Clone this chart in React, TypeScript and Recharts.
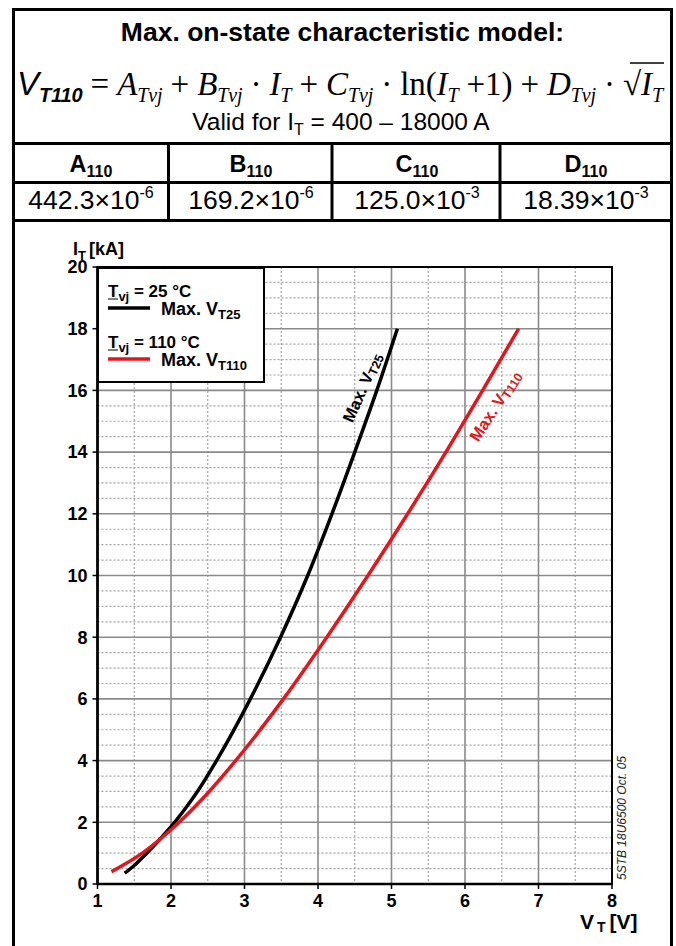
import React from 'react';
import {
  LineChart,
  Line,
  XAxis,
  YAxis,
  CartesianGrid,
  ReferenceArea,
  ReferenceDot,
  Legend,
} from 'recharts';

const SANS = '"Liberation Sans", Arial, sans-serif';
const SERIF = '"Liberation Serif", "Times New Roman", serif';
const RED = '#e4161b';

// axis ticks (V_T in volts, I_T in kA)
const voltTicks = [1, 2, 3, 4, 5, 6, 7, 8];
const voltMinor = [1.5, 2.5, 3.5, 4.5, 5.5, 6.5, 7.5];
const currentTicks = [0, 2, 4, 6, 8, 10, 12, 14, 16, 18, 20];
const currentMinor = Array.from({ length: 41 }, (_, k) => k * 0.5).filter((v) => v % 2 !== 0);

// Max. V_T at Tvj = 25 °C
const current25 = [0.35, 0.6, 1, 1.4, 1.8, 2.4, 3, 4, 6, 8, 10, 12, 14, 16, 18];
const voltage25 = [1.37, 1.5, 1.67, 1.83, 1.98, 2.18, 2.36, 2.62, 3.08, 3.49, 3.86, 4.19, 4.5, 4.8, 5.08];

// Max. V_T at Tvj = 110 °C
const current110 = [0.4, 1, 2, 3, 4, 6, 8, 10, 12, 14, 16, 18];
const voltage110 = [1.19, 1.61, 2.11, 2.52, 2.88, 3.53, 4.12, 4.68, 5.22, 5.74, 6.24, 6.73];

// model coefficients table
const coeffNames = ['A', 'B', 'C', 'D'];
const coeffMantissa = ['442.3', '169.2', '125.0', '18.39'];
const coeffExponent = ['-6', '-6', '-3', '-3'];

const data25 = current25.map((i, k) => ({ v: voltage25[k], i }));
const data110 = current110.map((i, k) => ({ v: voltage110[k], i }));

type Seg = { t: string; it?: boolean; sub?: boolean; sans?: boolean; bold?: boolean };

// V_T110 = A_Tvj + B_Tvj · I_T + C_Tvj · ln(I_T +1) + D_Tvj · √I_T
const formula: Seg[] = [
  { t: 'V', it: true, sans: true },
  { t: 'T110', it: true, sans: true, bold: true, sub: true },
  { t: ' = ' },
  { t: 'A', it: true },
  { t: 'Tvj', it: true, sub: true },
  { t: ' + ' },
  { t: 'B', it: true },
  { t: 'Tvj', it: true, sub: true },
  { t: ' · ' },
  { t: 'I', it: true },
  { t: 'T', it: true, sub: true },
  { t: ' + ' },
  { t: 'C', it: true },
  { t: 'Tvj', it: true, sub: true },
  { t: ' · ln(' },
  { t: 'I', it: true },
  { t: 'T', it: true, sub: true },
  { t: ' +1) + ' },
  { t: 'D', it: true },
  { t: 'Tvj', it: true, sub: true },
  { t: ' · √' },
  { t: 'I', it: true },
  { t: 'T', it: true, sub: true },
];

function Formula() {
  const shift = 7;
  return (
    <text x={17} y={95} fontFamily={SERIF} fontSize={33} textLength={646} lengthAdjust="spacing">
      {formula.map((s, k) => {
        const prevSub = k > 0 && formula[k - 1].sub;
        const dy = s.sub && !prevSub ? shift : !s.sub && prevSub ? -shift : 0;
        return (
          <tspan
            key={k}
            dy={dy || undefined}
            fontSize={s.sub ? 20 : undefined}
            fontStyle={s.it ? 'italic' : undefined}
            fontFamily={s.sans ? SANS : undefined}
            fontWeight={s.bold ? 'bold' : undefined}
          >
            {s.t}
          </tspan>
        );
      })}
    </text>
  );
}

function Header() {
  const colX = [91, 251, 417, 586];
  const colLines = [168.5, 332, 500];
  return (
    <svg width={676} height={224} style={{ position: 'absolute', left: 0, top: 0 }}>
      <text x={342.5} y={41} textAnchor="middle" fontFamily={SANS} fontWeight="bold" fontSize={26.5}>
        Max. on-state characteristic model:
      </text>
      <Formula />
      <line x1={630} x2={664} y1={63} y2={63} stroke="#000" strokeWidth={1.5} />
      <text x={341} y={130} textAnchor="middle" fontFamily={SANS} fontSize={24.5}>
        Valid for I
        <tspan fontSize={16} dy={5}>
          T
        </tspan>
        <tspan dy={-5}>{' = 400 – 18000 A'}</tspan>
      </text>
      {[143.5, 182.5, 220.5].map((y) => (
        <line key={y} x1={12} x2={673} y1={y} y2={y} stroke="#000" strokeWidth={3} />
      ))}
      {colLines.map((x) => (
        <line key={x} x1={x} x2={x} y1={143} y2={221} stroke="#000" strokeWidth={3} />
      ))}
      {coeffNames.map((n, k) => (
        <text key={n} x={colX[k]} y={172} textAnchor="middle" fontFamily={SANS} fontWeight="bold" fontSize={23.5}>
          {n}
          <tspan fontSize={16} dy={5}>
            110
          </tspan>
        </text>
      ))}
      {coeffMantissa.map((m, k) => (
        <text key={m} x={colX[k]} y={209} textAnchor="middle" fontFamily={SANS} fontSize={26.5}>
          {m}×10
          <tspan fontSize={16} dy={-11}>
            {coeffExponent[k]}
          </tspan>
        </text>
      ))}
    </svg>
  );
}

function LegendBox() {
  const rows = [
    { temp: '25', sub: 'T25', color: '#000', top: 0 },
    { temp: '110', sub: 'T110', color: RED, top: 51 },
  ];
  return (
    <svg width={168} height={116} style={{ display: 'block' }}>
      <rect x={1} y={1} width={166} height={114} fill="#fff" stroke="#000" strokeWidth={2} />
      {rows.map((r) => (
        <g key={r.temp} fontFamily={SANS} fontWeight="bold" fill="#000">
          <text x={11} y={30 + r.top} fontSize={17}>
            T
            <tspan fontSize={13} dy={4}>
              vj
            </tspan>
            <tspan dy={-4}>{` = ${r.temp} °C`}</tspan>
          </text>
          <line x1={11} x2={21} y1={32 + r.top} y2={32 + r.top} stroke="#000" strokeWidth={1} />
          <line x1={11} x2={53} y1={41 + r.top} y2={41 + r.top} stroke={r.color} strokeWidth={3.5} />
          <text x={64} y={48 + r.top} fontSize={18}>
            Max. V
            <tspan fontSize={13} dy={4}>
              {r.sub}
            </tspan>
          </text>
        </g>
      ))}
    </svg>
  );
}

const curveLabel = (sub: string, color: string, angle: number) => (props: any) => {
  const { cx, cy } = props;
  return (
    <text
      x={cx}
      y={cy}
      transform={`rotate(${angle} ${cx} ${cy})`}
      textAnchor="middle"
      dominantBaseline="central"
      fontFamily={SANS}
      fontWeight="bold"
      fontSize={16.5}
      fill={color}
    >
      Max. V
      <tspan fontSize={12.5} dy={4}>
        {sub}
      </tspan>
    </text>
  );
};

const docLabel = (props: any) => {
  const { cx, cy } = props;
  return (
    <text
      x={cx}
      y={cy}
      transform={`rotate(-90 ${cx} ${cy})`}
      textAnchor="middle"
      dominantBaseline="central"
      fontFamily={SANS}
      fontStyle="italic"
      fontSize={12}
      fill="#222"
    >
      5STB 18U6500 Oct. 05
    </text>
  );
};

const tickStyle = { fill: '#000', fontSize: 18, fontWeight: 'bold', fontFamily: SANS };

export default function App() {
  return (
    <div
      style={{
        position: 'absolute',
        left: 0,
        top: 0,
        width: 676,
        height: 946,
        background: '#fff',
        overflow: 'hidden',
        fontFamily: SANS,
      }}
    >
      <div
        style={{
          position: 'absolute',
          left: 12,
          top: 8,
          width: 661,
          height: 960,
          border: '3px solid #000',
          boxSizing: 'border-box',
        }}
      />
      <Header />
      <svg width={676} height={946} style={{ position: 'absolute', left: 0, top: 0 }}>
        <text x={73} y={255} fontFamily={SANS} fontWeight="bold" fontSize={18}>
          I
          <tspan fontSize={13} dy={5}>
            T
          </tspan>
          <tspan dy={-5} dx={3}>
            [kA]
          </tspan>
        </text>
        <text x={580} y={929} fontFamily={SANS} fontWeight="bold" fontSize={21}>
          V
          <tspan fontSize={14} dy={3} dx={3}>
            T
          </tspan>
          <tspan dy={-3} dx={4}>
            [V]
          </tspan>
        </text>
      </svg>
      <div style={{ position: 'absolute', left: 0, top: 222 }}>
        <LineChart width={676} height={724} margin={{ top: 45, right: 64, bottom: 32, left: 57.5 }}>
          <CartesianGrid
            verticalValues={voltMinor}
            horizontalValues={currentMinor}
            stroke="#a3a3a3"
            strokeDasharray="2 2"
            strokeWidth={1.2}
          />
          <CartesianGrid
            verticalValues={voltTicks}
            horizontalValues={currentTicks}
            stroke="#8a8a8a"
            strokeWidth={1.6}
          />
          <XAxis
            type="number"
            dataKey="v"
            domain={[1, 8]}
            ticks={voltTicks}
            interval={0}
            allowDataOverflow
            height={30}
            tickSize={5}
            tickMargin={5}
            axisLine={{ stroke: '#000', strokeWidth: 2.5 }}
            tickLine={{ stroke: '#000', strokeWidth: 1.5 }}
            tick={tickStyle}
          />
          <YAxis
            type="number"
            domain={[0, 20]}
            ticks={currentTicks}
            interval={0}
            allowDataOverflow
            width={40}
            tickSize={5}
            tickMargin={5}
            axisLine={{ stroke: '#000', strokeWidth: 2.5 }}
            tickLine={{ stroke: '#000', strokeWidth: 1.5 }}
            tick={tickStyle}
          />
          <ReferenceArea x1={1} x2={8} y1={0} y2={20} fill="none" stroke="#000" strokeWidth={2} ifOverflow="visible" />
          <Line
            data={data25}
            dataKey="i"
            type="monotone"
            stroke="#000"
            strokeWidth={3.5}
            dot={false}
            activeDot={false}
            isAnimationActive={false}
          />
          <Line
            data={data110}
            dataKey="i"
            type="monotone"
            stroke={RED}
            strokeWidth={3.5}
            dot={false}
            activeDot={false}
            isAnimationActive={false}
          />
          <ReferenceDot x={4.6} y={16.1} r={0} ifOverflow="visible" shape={curveLabel('T25', '#000', -66)} />
          <ReferenceDot x={6.41} y={15.5} r={0} ifOverflow="visible" shape={curveLabel('T110', RED, -57)} />
          <ReferenceDot x={8.136} y={2.14} r={0} ifOverflow="visible" shape={docLabel} />
          <Legend
            layout="vertical"
            align="center"
            verticalAlign="middle"
            content={() => <LegendBox />}
            wrapperStyle={{ position: 'absolute', left: 97, top: 45, width: 168, height: 116 }}
          />
        </LineChart>
      </div>
    </div>
  );
}
